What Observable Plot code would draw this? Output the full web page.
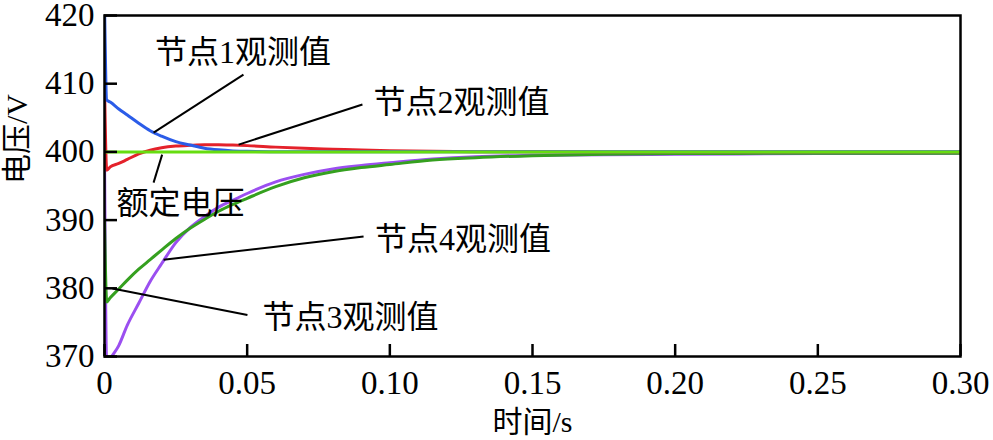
<!DOCTYPE html>
<html><head><meta charset="utf-8">
<script src="https://cdn.jsdelivr.net/npm/d3@7"></script>
<script src="https://cdn.jsdelivr.net/npm/@observablehq/plot@0.6"></script>
<style>body{margin:0;background:#fff}</style>
</head><body><div id="chart"></div>
<script>
// time axis samples (s)
const times = [0, 0.0008, 0.002, 0.005, 0.008, 0.012, 0.016, 0.020, 0.025, 0.030, 0.035, 0.040, 0.045, 0.050, 0.060, 0.070, 0.080, 0.090, 0.100, 0.115, 0.130, 0.150, 0.175, 0.200, 0.250, 0.300];
// 节点1观测值 (blue)
const node1 = [422, 407.6, 407.3, 406.3, 405.4, 404.2, 403.1, 402.3, 401.5, 401.0, 400.55, 400.3, 400.15, 400.08, 400.04, 400.03, 400.03, 400.03, 400.03, 400.03, 400.03, 400.03, 400.03, 400.03, 400.03, 400.03];
// 节点2观测值 (red)
const node2 = [410, 397.3, 397.8, 398.3, 398.9, 399.7, 400.25, 400.6, 400.85, 400.97, 401.05, 401.05, 401.0, 400.92, 400.7, 400.52, 400.4, 400.27, 400.17, 400.08, 400.04, 400.02, 400.0, 400.0, 400.0, 400.0];
// 节点3观测值 (green)
const node3 = [390, 378.0, 378.6, 379.9, 381.2, 382.8, 384.2, 385.6, 387.3, 388.8, 390.1, 391.3, 392.3, 393.2, 394.9, 396.2, 397.1, 397.7, 398.15, 398.8, 399.15, 399.45, 399.65, 399.75, 399.8, 399.82];
// 节点4观测值 (purple)
const node4 = [400, 368.5, 369.6, 371.6, 374.6, 377.8, 381.0, 383.6, 386.7, 388.9, 390.5, 391.9, 392.9, 393.9, 395.6, 396.7, 397.5, 398.0, 398.4, 398.95, 399.3, 399.5, 399.6, 399.65, 399.75, 399.8];
// 额定电压
const ratedTimes = [0, 0.3];
const ratedValues = [400, 400];

const seriesColors = ["#2b5ce8", "#e4222b", "#35a01f", "#9b4ff0"];
const ratedColor = "#66dd10";

const xTicks = [0, 0.05, 0.10, 0.15, 0.20, 0.25, 0.30];
const xTickLabels = ["0", "0.05", "0.10", "0.15", "0.20", "0.25", "0.30"];
const yTicks = [370, 380, 390, 400, 410, 420];

// annotations (data coordinates)
const annoText = ["节点1观测值", "节点2观测值", "额定电压", "节点4观测值", "节点3观测值"];
const annoT = [0.0485, 0.1251, 0.0266, 0.1256, 0.0862];
const annoV = [414.6, 407.2, 392.4, 387.1, 375.7];
const leadT1 = [0.0487, 0.0904, 0.0202, 0.0908, 0.0501];
const leadV1 = [411.33, 406.94, 399.6, 387.58, 376.1];
const leadT2 = [0.0172, 0.0470, 0.0172, 0.0207, 0.0028];
const leadV2 = [402.82, 401.07, 395.5, 384.2, 379.96];

const rows = vals => times.map((t, i) => ({t, v: vals[i]}));
const rated = ratedTimes.map((t, i) => ({t, v: ratedValues[i]}));
const annos = annoText.map((s, i) => ({s, t: annoT[i], v: annoV[i]}));
const leads = annoText.map((s, i) => ({t1: leadT1[i], v1: leadV1[i], t2: leadT2[i], v2: leadV2[i]}));

const FONT = "'Liberation Serif','Noto Sans CJK SC',serif";
const CJK = "'Liberation Serif','Noto Sans CJK SC',sans-serif";
const lineOpts = (color) => ({x: "t", y: "v", stroke: color, strokeWidth: 3, clip: true, curve: "monotone-x"});

const chart = Plot.plot({
  width: 993, height: 440,
  marginLeft: 104, marginRight: 33, marginTop: 15, marginBottom: 84,
  x: {domain: [0, 0.3]},
  y: {domain: [370, 420]},
  style: {fontFamily: FONT, background: "white", color: "black"},
  marks: [
    Plot.line(rows(node4), lineOpts(seriesColors[3])),
    Plot.line(rows(node3), lineOpts(seriesColors[2])),
    Plot.line(rows(node2), lineOpts(seriesColors[1])),
    Plot.line(rows(node1), lineOpts(seriesColors[0])),
    Plot.line(rated, {x: "t", y: "v", stroke: ratedColor, strokeWidth: 3, clip: true}),
    Plot.link(leads, {x1: "t1", y1: "v1", x2: "t2", y2: "v2", stroke: "black", strokeWidth: 2}),
    Plot.text(annos, {x: "t", y: "v", text: "s", fontSize: 32, fontFamily: CJK, textAnchor: "middle", lineAnchor: "middle", fill: "black"}),
    Plot.tickX(xTicks, {x: d => d, insetTop: 329, stroke: "black", strokeWidth: 2.5}),
    Plot.tickY(yTicks, {y: d => d, insetRight: 843, stroke: "black", strokeWidth: 2.5}),
    Plot.axisX({ticks: xTicks, tickSize: 0, tickPadding: 14, fontSize: 33, tickFormat: d => xTickLabels[xTicks.indexOf(d)], label: null}),
    Plot.axisY({ticks: yTicks, tickSize: 0, tickPadding: 10, fontSize: 33, tickFormat: d => String(d), label: null}),
    Plot.frame({stroke: "black", strokeWidth: 2.5}),
    Plot.text(["时间/s"], {text: d => d, frameAnchor: "bottom", dy: 66, fontSize: 30, fontFamily: CJK, lineAnchor: "middle"}),
    Plot.text(["电压/V"], {text: d => d, frameAnchor: "left", dx: -87, dy: -2, rotate: -90, fontSize: 30, fontFamily: CJK, lineAnchor: "middle"})
  ]
});
document.getElementById("chart").appendChild(chart);
</script>
</body></html>
